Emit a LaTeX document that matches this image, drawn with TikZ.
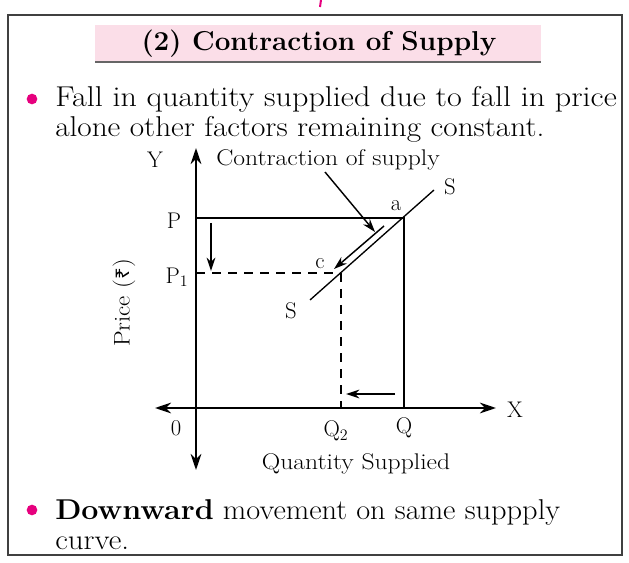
\documentclass[tikz,border=0pt]{standalone}
\usepackage{fontspec}
\usepackage{graphicx}
\newfontfamily\rupee{Noto Sans}
\usetikzlibrary{arrows.meta}
\definecolor{bandpink}{RGB}{251,222,232}
\definecolor{dotpink}{RGB}{230,0,126}
\newcommand\widen[2]{\scalebox{#1}[1]{#2}}
\begin{document}
\begin{tikzpicture}[x=0.75pt,y=-0.75pt,
  txt/.style={inner sep=0pt,font=\fontsize{21.5}{25}\selectfont},
  lbl/.style={inner sep=0pt,font=\fontsize{17}{20}\selectfont},
  axis/.style={line width=1.7pt,-{Stealth[length=12pt,width=8pt]}},
  thin/.style={line width=1pt},
  dsh/.style={line width=1pt,dash pattern=on 7pt off 5pt},
  arr/.style={line width=1.1pt,-{Stealth[length=10pt,width=6.5pt]}},
  bullet/.style={circle,fill=dotpink,inner sep=0pt,minimum size=8pt}]
\useasboundingbox (0,0) rectangle (629,563);
% top pink tick
\draw[dotpink,line width=1.5pt] (321,0) -- (320,7);
% frame
\draw[line width=1pt,draw=black!75] (8,15) rectangle (622,555);
% title band
\fill[bandpink] (95,25) rectangle (541,62);
\draw[line width=1pt,black!60] (95,62) -- (541,62);
\node[inner sep=0pt,font=\fontsize{20.5}{24}\selectfont\bfseries] (title) at (319,44) {\widen{1.02}{(2) Contraction of Supply}};
% bullet 1
\node[bullet] (b1) at (32,99) {};
\node[txt,anchor=base west] (l1) at (55,107) {\widen{1.12}{Fall in quantity supplied due to fall in price}};
\node[txt,anchor=base west] (l2) at (55,137) {\widen{1.09}{alone other factors remaining constant.}};
% bullet 2
\node[bullet] (b2) at (32,510) {};
\node[txt,anchor=base west] (l3) at (55,519) {\widen{1.06}{\textbf{Downward} movement on same suppply}};
\node[txt,anchor=base west] (l4) at (55,549) {\widen{1.08}{curve.}};
% graph coordinates
\coordinate (O) at (196,408);
\coordinate (ytop) at (196,148);
\coordinate (ybot) at (196,470);
\coordinate (xl) at (155,408);
\coordinate (xr) at (496,408);
\coordinate (Pp) at (196,218);
\coordinate (a) at (404,218);
\coordinate (Qq) at (404,408);
\coordinate (P1p) at (196,273);
\coordinate (c) at (341,273);
\coordinate (Q2) at (341,408);
\coordinate (S1) at (310,300);
\coordinate (S2) at (434,190);
% axes
\draw[axis] (O) -- (ytop);
\draw[axis] (O) -- (ybot);
\draw[axis] (O) -- (xl);
\draw[axis] (O) -- (xr);
% lines
\draw[thin] (Pp) -- (a) -- (Qq);
\draw[dsh] (P1p) -- (c);
\draw[dsh] (c) -- (Q2);
\draw[thin] (S1) -- (S2);
% arrows
\coordinate (t1) at (325,172);
\coordinate (t2) at (375,232);
\draw[arr] (t1) -- (t2);
\coordinate (m1) at (384,226);
\coordinate (m2) at (334,269);
\draw[arr] (m1) -- (m2);
\coordinate (d1) at (211,223);
\coordinate (d2) at (211,271);
\draw[arr] (d1) -- (d2);
\coordinate (h1) at (395,394);
\coordinate (h2) at (346,394);
\draw[arr] (h1) -- (h2);
% labels
\node[lbl] (Y) at (155,160) {Y};
\node[lbl] (X) at (515,410) {X};
\node[lbl] (ct) at (328,160) {\widen{1.13}{Contraction of supply}};
\node[lbl] (Sa) at (450,187) {S};
\node[lbl] (Sb) at (291,311) {S};
\node[lbl] (la) at (396,206) {a};
\node[lbl] (lc) at (320,264) {c};
\node[lbl] (lP) at (174,221) {P};
\node[lbl] (lP1) at (177,277) {P$_1$};
\node[lbl] (l0) at (176,428) {0};
\node[lbl] (lQ2) at (336,431) {Q$_2$};
\node[lbl] (lQ) at (404,428) {Q};
\node[lbl] (qs) at (356,464) {\widen{1.13}{Quantity Supplied}};
\node[lbl,rotate=90] (pr) at (124,303) {\widen{1.1}{Price ({\rupee\fontsize{14}{16}\selectfont ₹})}};
\end{tikzpicture}
\end{document}
